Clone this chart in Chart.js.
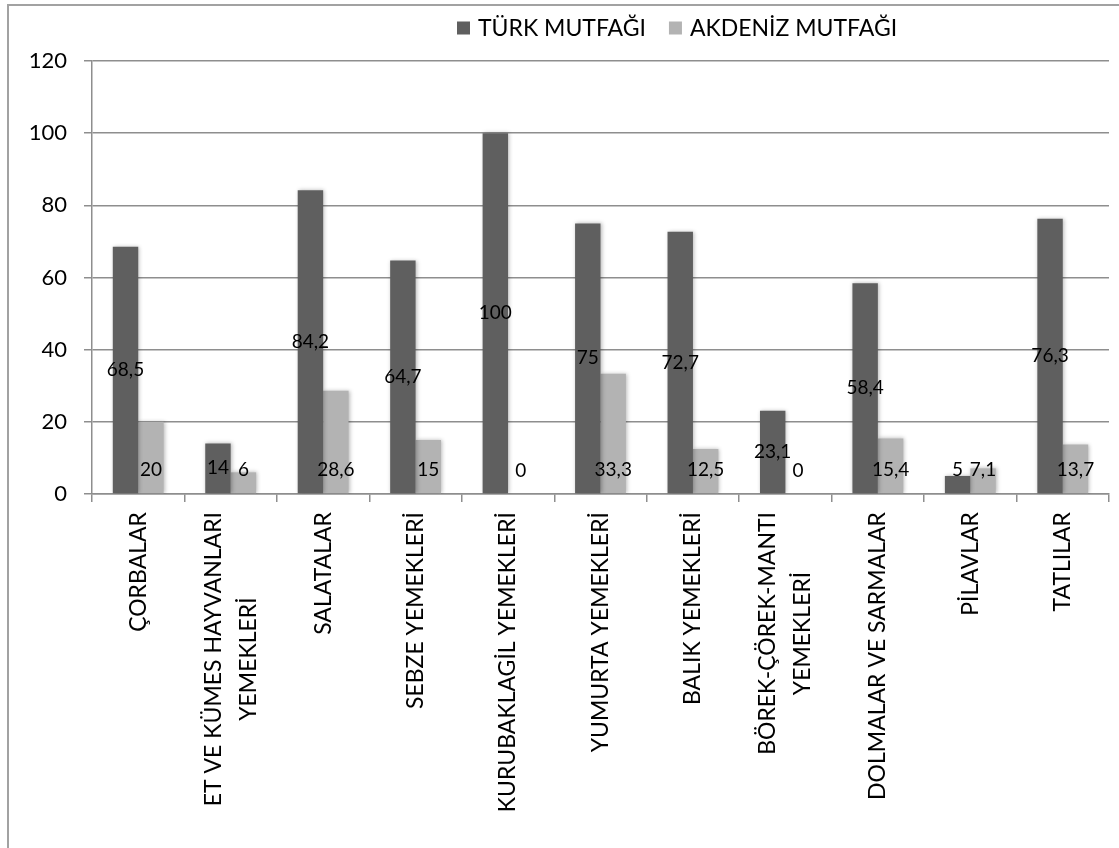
<!DOCTYPE html>
<html>
<head>
<meta charset="utf-8">
<script src="https://cdn.jsdelivr.net/npm/chart.js@4.4.1/dist/chart.umd.min.js"></script>
<style>
  html, body { margin: 0; padding: 0; background: #ffffff; }
  #wrap { width: 1119px; height: 848px; position: relative; }
</style>
</head>
<body>
<div id="wrap"><canvas id="chart"></canvas></div>
<script>
// Category names (multi-line entries are stacked, centred lines)
const categories = [
  ['ÇORBALAR'],
  ['ET VE KÜMES HAYVANLARI', 'YEMEKLERİ'],
  ['SALATALAR'],
  ['SEBZE YEMEKLERİ'],
  ['KURUBAKLAGİL YEMEKLERİ'],
  ['YUMURTA YEMEKLERİ'],
  ['BALIK YEMEKLERİ'],
  ['BÖREK-ÇÖREK-MANTI', 'YEMEKLERİ'],
  ['DOLMALAR VE SARMALAR'],
  ['PİLAVLAR'],
  ['TATLILAR']
];
const seriesNames = ['TÜRK MUTFAĞI', 'AKDENİZ MUTFAĞI'];
const turkValues = [68.5, 14, 84.2, 64.7, 100, 75, 72.7, 23.1, 58.4, 5, 76.3];
const akdenizValues = [20, 6, 28.6, 15, 0, 33.3, 12.5, 0, 15.4, 7.1, 13.7];
const yTickValues = [0, 20, 40, 60, 80, 100, 120];

const FONT = 'Lato, "Open Sans", sans-serif';
const DARK = '#5f5f5f';
const LIGHT = '#b3b3b3';
const LINE = '#8e8e8e';

const fmt = v => String(v).replace('.', ',');

// White page with the grey frame along the top and left edges
const framePlugin = {
  id: 'frame',
  beforeDraw(chart) {
    const ctx = chart.ctx;
    ctx.save();
    ctx.fillStyle = '#ffffff';
    ctx.fillRect(0, 0, chart.width, chart.height);
    ctx.strokeStyle = '#a2a2a2';
    ctx.lineWidth = 2;
    ctx.beginPath();
    ctx.moveTo(8, chart.height + 5);
    ctx.lineTo(8, 5);
    ctx.lineTo(chart.width + 5, 5);
    ctx.stroke();
    ctx.restore();
  }
};

// Soft shadow around every bar
const barShadowPlugin = {
  id: 'barShadow',
  beforeDatasetsDraw(chart) {
    const ctx = chart.ctx;
    ctx.save();
    ctx.shadowColor = 'rgba(0,0,0,0.28)';
    ctx.shadowBlur = 4;
    ctx.shadowOffsetX = 1;
    ctx.shadowOffsetY = 0;
  },
  afterDatasetsDraw(chart) {
    chart.ctx.restore();
  }
};

// Value labels: dark series centred in the bar, light series near the base
const valueLabelPlugin = {
  id: 'valueLabels',
  afterDatasetsDraw(chart) {
    const ctx = chart.ctx;
    ctx.save();
    ctx.font = '19px ' + FONT;
    ctx.fillStyle = '#000000';
    ctx.textAlign = 'center';
    ctx.textBaseline = 'middle';
    chart.data.datasets.forEach((ds, di) => {
      const meta = chart.getDatasetMeta(di);
      meta.data.forEach((bar, i) => {
        const base = bar.base;
        const low = base - 23;
        const y = di === 0 ? Math.min((bar.y + base) / 2, low) : low;
        ctx.fillText(fmt(ds.data[i]), bar.x, y);
      });
    });
    ctx.restore();
  }
};

// Rotated category names under the x axis
const categoryLabelPlugin = {
  id: 'categoryLabels',
  afterDraw(chart) {
    const ctx = chart.ctx;
    const xs = chart.scales.x;
    const top = chart.chartArea.bottom + 18;
    const lineH = 35;
    ctx.save();
    ctx.font = '23px ' + FONT;
    ctx.fillStyle = '#000000';
    ctx.textAlign = 'center';
    ctx.textBaseline = 'middle';
    chart.data.labels.forEach((lines, i) => {
      const x = xs.getPixelForValue(i);
      const maxW = Math.max(...lines.map(l => ctx.measureText(l).width));
      ctx.save();
      ctx.translate(x, top + maxW / 2);
      ctx.rotate(-Math.PI / 2);
      lines.forEach((l, j) => {
        ctx.fillText(l, 0, (j - (lines.length - 1) / 2) * lineH);
      });
      ctx.restore();
    });
    ctx.restore();
  }
};

// Legend row above the plot
const legendRowPlugin = {
  id: 'legendRow',
  afterDraw(chart) {
    const ctx = chart.ctx;
    ctx.save();
    ctx.font = '23px ' + FONT;
    ctx.textBaseline = 'middle';
    ctx.textAlign = 'left';
    let x = 457;
    const yc = 28;
    chart.data.datasets.forEach(ds => {
      ctx.fillStyle = ds.backgroundColor;
      ctx.fillRect(x, yc - 6.5, 13, 13);
      ctx.fillStyle = '#000000';
      ctx.fillText(ds.label, x + 21, yc + 1);
      x += 21 + ctx.measureText(ds.label).width + 23;
    });
    ctx.restore();
  }
};

function build() {
  new Chart(document.getElementById('chart'), {
    type: 'bar',
    data: {
      labels: categories,
      datasets: [
        { label: seriesNames[0], data: turkValues, backgroundColor: DARK,
          categoryPercentage: 0.55, barPercentage: 1.0 },
        { label: seriesNames[1], data: akdenizValues, backgroundColor: LIGHT,
          categoryPercentage: 0.55, barPercentage: 1.0 }
      ]
    },
    options: {
      responsive: true,
      maintainAspectRatio: false,
      animation: false,
      layout: { padding: { top: 61, right: 10, left: 0, bottom: 0 } },
      plugins: {
        legend: { display: false },
        tooltip: { enabled: false }
      },
      scales: {
        x: {
          grid: { offset: true, drawOnChartArea: false, drawTicks: true,
                  tickLength: 8, color: LINE, lineWidth: 1.5 },
          border: { color: LINE, width: 1.5 },
          ticks: { display: false },
          afterFit(s) { s.height = 848 - 494; }
        },
        y: {
          min: 0, max: 120,
          afterBuildTicks(s) { s.ticks = yTickValues.map(v => ({ value: v })); },
          grid: { color: LINE, lineWidth: 1.5, tickLength: 8 },
          border: { color: LINE, width: 1.5 },
          ticks: { padding: 17, color: '#000000', font: { family: FONT, size: 22 } },
          afterFit(s) { s.width = 92; }
        }
      }
    },
    plugins: [framePlugin, barShadowPlugin, valueLabelPlugin, categoryLabelPlugin, legendRowPlugin]
  });
}

if (document.fonts && document.fonts.load) {
  Promise.all([document.fonts.load('23px Lato'), document.fonts.load('19px Lato')])
    .then(build, build);
} else {
  build();
}
</script>
</body>
</html>
